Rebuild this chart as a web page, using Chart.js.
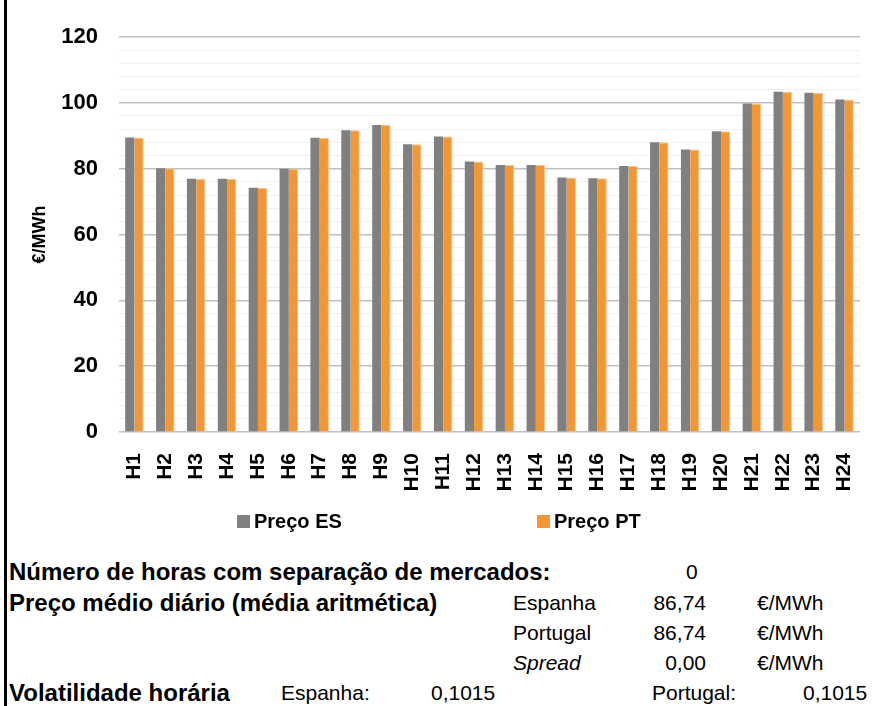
<!DOCTYPE html>
<html>
<head>
<meta charset="utf-8">
<script src="https://cdn.jsdelivr.net/npm/chart.js@4.4.1/dist/chart.umd.min.js"></script>
<style>
  html, body { margin: 0; padding: 0; background: #fff; }
  body { width: 877px; height: 706px; position: relative; overflow: hidden; font-family: "Liberation Sans", Arial, sans-serif; color: #000; }
  #wrap { position: absolute; left: 0; top: 0; width: 877px; height: 545px; }
  .border { position: absolute; left: 4px; top: 0; width: 3px; height: 706px; background: #000; }
  .t { position: absolute; white-space: nowrap; line-height: 30px; height: 30px; }
  .b { font-weight: bold; font-size: 24px; }
  .r { font-size: 21px; }
  .ra { text-align: right; }
</style>
</head>
<body>
<div id="wrap"><canvas id="c" width="877" height="545"></canvas></div>
<div class="border"></div>

<div class="t b" style="left:9px; top:557px;">Número de horas com separação de mercados:</div>
<div class="t r" style="left:686px; top:557px;">0</div>

<div class="t b" style="left:9px; top:588px;">Preço médio diário (média aritmética)</div>
<div class="t r" style="left:513px; top:588px;">Espanha</div>
<div class="t r ra" style="left:606px; width:100px; top:588px;">86,74</div>
<div class="t r" style="left:757px; top:588px;">€/MWh</div>

<div class="t r" style="left:513px; top:618px;">Portugal</div>
<div class="t r ra" style="left:606px; width:100px; top:618px;">86,74</div>
<div class="t r" style="left:757px; top:618px;">€/MWh</div>

<div class="t r" style="left:513px; top:648px; font-style:italic;">Spread</div>
<div class="t r ra" style="left:606px; width:100px; top:648px;">0,00</div>
<div class="t r" style="left:757px; top:648px;">€/MWh</div>

<div class="t b" style="left:9px; top:678px;">Volatilidade horária</div>
<div class="t r" style="left:281px; top:678px;">Espanha:</div>
<div class="t r" style="left:431px; top:678px;">0,1015</div>
<div class="t r" style="left:652px; top:678px;">Portugal:</div>
<div class="t r" style="left:803px; top:678px;">0,1015</div>

<script>
const hours = ['H1','H2','H3','H4','H5','H6','H7','H8','H9','H10','H11','H12','H13','H14','H15','H16','H17','H18','H19','H20','H21','H22','H23','H24'];
const precoES = [89.5, 80.1, 76.9, 76.9, 74.2, 80.0, 89.4, 91.7, 93.3, 87.4, 89.8, 82.2, 81.1, 81.1, 77.3, 77.1, 80.8, 88.0, 85.8, 91.4, 99.8, 103.4, 103.1, 101.0];
const precoPT = [89.5, 80.1, 76.9, 76.9, 74.2, 80.0, 89.4, 91.7, 93.3, 87.4, 89.8, 82.2, 81.1, 81.1, 77.3, 77.1, 80.8, 88.0, 85.8, 91.4, 99.8, 103.4, 103.1, 101.0];
const seriesNames = ['Preço ES', 'Preço PT'];
const yTitle = '€/MWh';

const FONT = '"Liberation Sans", Arial, sans-serif';

const customLegend = {
  id: 'customLegend',
  afterDraw(chart) {
    const ctx = chart.ctx;
    const xs = [237, 537];
    const y = 521;
    ctx.save();
    ctx.font = 'bold 20px ' + FONT;
    ctx.textBaseline = 'middle';
    ctx.textAlign = 'left';
    chart.data.datasets.forEach((ds, i) => {
      ctx.fillStyle = ds.backgroundColor;
      ctx.fillRect(xs[i], y - 6, 13, 13);
      ctx.fillStyle = '#000';
      ctx.fillText(ds.label, xs[i] + 17, y + 1);
    });
    ctx.restore();
  }
};

new Chart(document.getElementById('c'), {
  type: 'bar',
  data: {
    labels: hours,
    datasets: [
      { label: seriesNames[0], data: precoES, backgroundColor: '#808080', borderWidth: 0 },
      { label: seriesNames[1], data: precoPT, backgroundColor: '#F29733', borderColor: '#F8C48A', borderWidth: {right: 1, top: 1}, borderSkipped: 'bottom' }
    ]
  },
  options: {
    responsive: false,
    animation: false,
    devicePixelRatio: 1,
    layout: { padding: { top: 37, right: 17, bottom: 45, left: 0 } },
    plugins: { legend: { display: false }, tooltip: { enabled: false } },
    datasets: { bar: { categoryPercentage: 0.6, barPercentage: 1.0 } },
    scales: {
      x: {
        grid: { display: false },
        border: { display: false },
        ticks: {
          color: '#000', font: { family: FONT, size: 21, weight: 'bold' },
          maxRotation: 90, minRotation: 90, padding: 13, autoSkip: false
        },
        afterFit(scale) { scale.height = 68; scale.paddingRight = 0; scale.paddingLeft = 0; }
      },
      y: {
        min: 0, max: 120,
        border: { display: false },
        grid: {
          drawTicks: false,
          color: (ctx) => (ctx.tick && ctx.tick.value % 20 === 0) ? '#C0C0C0' : '#EEF0F7',
          lineWidth: (ctx) => (ctx.tick && ctx.tick.value % 20 === 0) ? 1.5 : 1
        },
        ticks: {
          stepSize: 4, autoSkip: false, padding: 21, color: '#000',
          font: { family: FONT, size: 22, weight: 'bold' },
          callback: (v) => (v % 20 === 0 ? v : '')
        },
        title: {
          display: true, text: yTitle, color: '#000',
          font: { family: FONT, size: 18, weight: 'bold' },
          padding: { top: 29, bottom: 0 }
        },
        afterFit(scale) { scale.width = 119; }
      }
    }
  },
  plugins: [customLegend]
});
</script>
</body>
</html>
